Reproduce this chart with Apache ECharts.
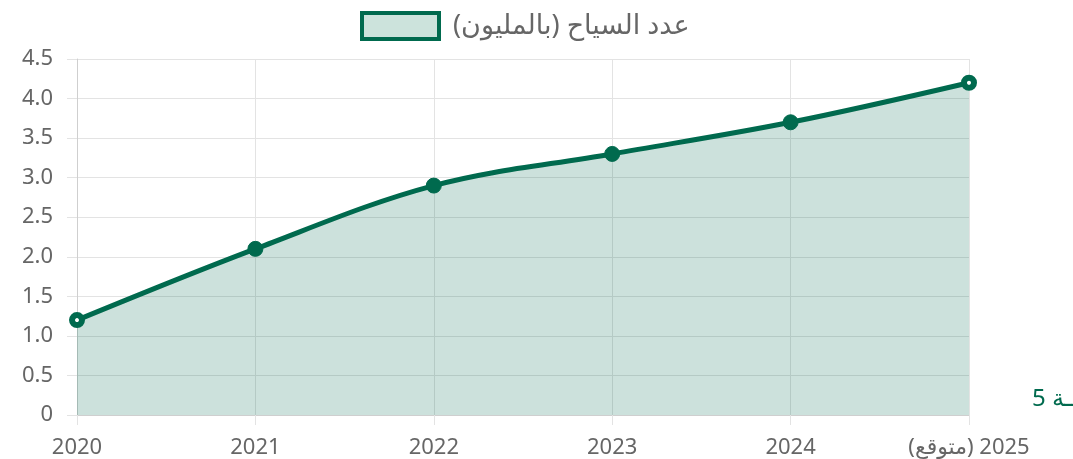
<!DOCTYPE html>
<html><head><meta charset="utf-8">
<script src="https://cdn.jsdelivr.net/npm/echarts@6/dist/echarts.min.js"></script>
<style>html,body{margin:0;padding:0;background:#fff}#c{width:1073px;height:459px;direction:rtl}</style>
</head><body><div id="c"></div>
<script>
const categories = ['2020','2021','2022','2023','2024','2025 (متوقع)'];
const tourists = [1.2, 2.1, 2.9, 3.3, 3.7, 4.2];
const yTickLabels = ['0','0.5','1.0','1.5','2.0','2.5','3.0','3.5','4.0','4.5'];
const seriesName = 'عدد السياح (بالمليون)';
const strayText = 'نسبـــة 5';

const GREEN = '#006a4e';
const FILL = 'rgba(0,106,78,0.2)';
const FONT = '"Noto Sans", "DejaVu Sans", sans-serif';
const chart = echarts.init(document.getElementById('c'), null, {renderer:'canvas'});
const lastIdx = tourists.length - 1;
chart.setOption({
  animation:false,
  legend:{
    top:6, left:355,
    itemWidth:77, itemHeight:26, itemGap:14,
    icon:'rect',
    itemStyle:{color:'#cce3dc', borderColor:GREEN, borderWidth:4},
    textStyle:{fontFamily:FONT, fontSize:27, color:'#666', padding:[0,0,0,9]},
    data:[seriesName]
  },
  grid:{left:77, right:104, top:59, bottom:44, containLabel:false, outerBoundsMode:'none'},
  xAxis:{
    type:'category', data:categories, boundaryGap:false,
    axisLine:{show:true, lineStyle:{color:'#cfcfcf', width:1}},
    axisTick:{show:true, length:10, alignWithLabel:true, lineStyle:{color:'#e3e3e3'}},
    splitLine:{show:true, lineStyle:{color:'#e3e3e3', width:1}},
    axisLabel:{fontFamily:FONT, fontSize:22, color:'#666', margin:22}
  },
  yAxis:{
    type:'value', min:0, max:4.5, interval:0.5,
    axisLine:{show:true, lineStyle:{color:'#cfcfcf', width:1}},
    axisTick:{show:true, length:10, lineStyle:{color:'#e3e3e3'}},
    splitLine:{show:true, lineStyle:{color:'#e3e3e3', width:1}},
    axisLabel:{fontFamily:FONT, fontSize:22, color:'#666', margin:24,
      formatter:(v)=>yTickLabels[Math.round(v/0.5)]}
  },
  series:[{
    name:seriesName, type:'line', smooth:0.35,
    data:tourists.map((v,i)=>({value:v, itemStyle:(i===0||i===lastIdx)?{color:'#fff', borderColor:GREEN, borderWidth:6}:{color:GREEN, borderColor:GREEN, borderWidth:1}})),
    symbol:'circle', symbolSize:(v,p)=>(p.dataIndex===0||p.dataIndex===lastIdx)?10:15,
    lineStyle:{color:GREEN, width:5},
    itemStyle:{color:GREEN, borderColor:GREEN},
    areaStyle:{color:FILL, opacity:1, origin:'start'}
  }],
  graphic:[{
    type:'text', left:1032, top:387,
    style:{text:strayText, fill:GREEN, font:'24px '+FONT, textAlign:'left'}
  }]
});
</script></body></html>
